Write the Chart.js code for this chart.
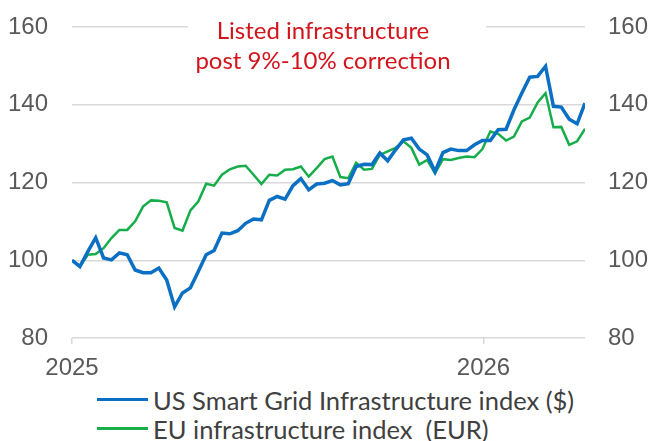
<!DOCTYPE html>
<html>
<head>
<meta charset="utf-8">
<script src="https://cdn.jsdelivr.net/npm/chart.js@4/dist/chart.umd.min.js"></script>
<style>
  body { margin: 0; background: #fff; }
  #wrap { position: relative; width: 649px; height: 441px; }
  #legend { position: absolute; left: 97px; top: 385px; font-family: Lato, sans-serif; font-size: 25.5px; color: #404040; white-space: pre; }
  .row { display: flex; align-items: center; height: 29px; }
  .swatch { width: 51px; height: 3px; margin-right: 5px; }
</style>
</head>
<body>
<div id="wrap">
  <canvas id="myChart" width="649" height="385"></canvas>
  <div id="legend"></div>
</div>
<script>
// weekly index levels, first week of 2025 = 100
var usValues = [100, 98.4, 102.2, 105.8, 100.6, 100.1, 101.9, 101.4, 97.5, 96.8,
  96.8, 98.0, 94.9, 88.0, 91.6, 92.9, 97.1, 101.4, 102.5, 107.0,
  106.8, 107.6, 109.5, 110.6, 110.4, 115.4, 116.4, 115.7, 119.2, 121.0,
  118.1, 119.6, 119.8, 120.5, 119.4, 119.7, 124.1, 124.7, 124.6, 127.6,
  125.6, 128.4, 131.0, 131.4, 128.6, 127.1, 122.8, 127.7, 128.6, 128.2,
  128.2, 129.7, 130.8, 130.8, 133.6, 133.7, 138.7, 143.0, 147.1, 147.3,
  149.9, 139.6, 139.4, 136.3, 135.1, 140.4];
var euValues = [100, 98.4, 101.4, 101.6, 103.1, 105.7, 107.8, 107.8, 110.0, 113.8,
  115.4, 115.3, 114.9, 108.3, 107.6, 112.8, 115.1, 119.7, 119.2, 122.0,
  123.4, 124.1, 124.3, 122.0, 119.6, 122.0, 121.8, 123.3, 123.4, 124.1,
  121.5, 123.7, 126.0, 126.7, 121.4, 121.1, 125.1, 123.3, 123.5, 127.1,
  128.0, 128.9, 130.6, 128.9, 124.6, 125.8, 122.4, 126.0, 125.8, 126.3,
  126.7, 126.5, 128.6, 133.1, 132.5, 130.8, 131.8, 135.7, 136.7, 140.6,
  143.0, 134.2, 134.3, 129.7, 130.6, 133.8];
var seriesNames = ["US Smart Grid Infrastructure index ($)", "EU infrastructure index  (EUR)"];
var seriesColors = ["#0b6fc3", "#17ad4b"];
var tickWeeks = [0, 52.14];
var tickLabels = ["2025", "2026"];
var yTicks = [80, 100, 120, 140, 160];
var noteLines = ["Listed infrastructure", "post 9%-10% correction"];

function toPoints(vals) {
  return vals.map(function (v, i) { return { x: i, y: v }; });
}

var tickFont = { family: "'Liberation Sans', Arial, sans-serif", size: 24 };
var gridColor = "#d9d9d9";

var noteBox = {
  id: "noteBox",
  beforeDatasetsDraw: function (chart) {
    var ctx = chart.ctx;
    ctx.save();
    ctx.fillStyle = "#fff";
    ctx.fillRect(188, 8, 298, 72);
    ctx.fillStyle = "#d2141c";
    ctx.font = "24px Lato, sans-serif";
    ctx.textAlign = "center";
    ctx.textBaseline = "alphabetic";
    ctx.fillText(noteLines[0], 323, 39);
    ctx.fillText(noteLines[1], 323, 69);
    ctx.restore();
  }
};

var yAxis = function (pos, width, pad) {
  return {
    type: "linear",
    position: pos,
    min: 80, max: 160,
    afterBuildTicks: function (s) { s.ticks = yTicks.map(function (v) { return { value: v }; }); },
    afterFit: function (s) { s.width = width; s.paddingTop = 0; s.paddingBottom = 0; },
    border: { display: false },
    grid: { display: pos === "left", color: gridColor, lineWidth: 1.5, drawTicks: false },
    ticks: { font: tickFont, color: "#595959", padding: pad }
  };
};

var chart = new Chart("myChart", {
  type: "line",
  data: {
    datasets: [{
      label: seriesNames[0],
      data: toPoints(usValues),
      borderColor: seriesColors[0],
      borderWidth: 3.5,
      pointRadius: 0,
      yAxisID: "y"
    }, {
      label: seriesNames[1],
      data: toPoints(euValues),
      borderColor: seriesColors[1],
      borderWidth: 2.5,
      pointRadius: 0,
      yAxisID: "y"
    }]
  },
  options: {
    responsive: false,
    animation: false,
    layout: { padding: { top: 27, left: 0, right: 0, bottom: 0 } },
    plugins: { legend: { display: false }, tooltip: { enabled: false } },
    scales: {
      x: {
        type: "linear",
        min: 0, max: usValues.length - 1,
        afterBuildTicks: function (s) { s.ticks = tickWeeks.map(function (v) { return { value: v }; }); },
        afterFit: function (s) { s.height = 47; s.paddingLeft = 0; s.paddingRight = 0; },
        border: { display: false },
        grid: { drawOnChartArea: false, drawTicks: true, tickLength: 6, color: gridColor, lineWidth: 1.5 },
        ticks: {
          font: tickFont, color: "#595959", padding: 10, maxRotation: 0,
          callback: function (v) { var k = tickWeeks.indexOf(v); return k < 0 ? null : tickLabels[k]; }
        }
      },
      y: yAxis("left", 72, 24),
      y2: yAxis("right", 64, 23)
    }
  },
  plugins: [noteBox]
});

// legend rows below the canvas
var lg = document.getElementById("legend");
chart.data.datasets.forEach(function (d) {
  var row = document.createElement("div");
  row.className = "row";
  var sw = document.createElement("div");
  sw.className = "swatch";
  sw.style.background = d.borderColor;
  var tx = document.createElement("span");
  tx.textContent = d.label;
  row.appendChild(sw);
  row.appendChild(tx);
  lg.appendChild(row);
});
</script>
</body>
</html>
